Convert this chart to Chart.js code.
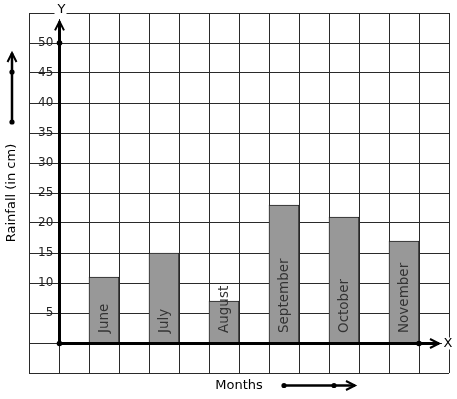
<!DOCTYPE html>
<html><head><meta charset="utf-8">
<script src="https://cdn.jsdelivr.net/npm/chart.js@4/dist/chart.umd.min.js"></script>
<style>html,body{margin:0;padding:0;background:#fff}#wrap{width:457px;height:399px}</style>
</head><body><div id="wrap"><canvas id="c" width="457" height="399"></canvas></div>
<script>
// ---- data ----
const months = ['June', 'July', 'August', 'September', 'October', 'November'];
const rainfall = [11, 15, 7, 23, 21, 17];
const yTickLabels = [5, 10, 15, 20, 25, 30, 35, 40, 45, 50];
const yMin = -5, yMax = 55, yStep = 5;
const gridColumns = 14;          // graph-paper columns
const firstBarColumn = 2;        // column of the first bar
const columnGap = 2;             // bars every second column

// ---- build category table ----
const labels = Array(gridColumns).fill('');
const values = Array(gridColumns).fill(null);
months.forEach((m, i) => { labels[firstBarColumn + columnGap * i] = m; values[firstBarColumn + columnGap * i] = rainfall[i]; });

Chart.defaults.font.family = '"DejaVu Sans", sans-serif';

function arrowHead(ctx, x, y, dir, len, half) {
  ctx.beginPath();
  if (dir === 'up') { ctx.moveTo(x - half, y + len); ctx.lineTo(x, y); ctx.lineTo(x + half, y + len); }
  else { ctx.moveTo(x - len, y - half); ctx.lineTo(x, y); ctx.lineTo(x - len, y + half); }
  ctx.stroke();
}
function dot(ctx, x, y, r) { ctx.beginPath(); ctx.arc(x, y, r, 0, Math.PI * 2); ctx.fill(); }

const deco = {
  id: 'deco',
  afterDatasetsDraw(chart) {
    const ctx = chart.ctx;
    const meta = chart.getDatasetMeta(0);
    const xs = chart.scales.x, ys = chart.scales.y;
    const ca = chart.chartArea;
    ctx.save();
    // month names inside bars
    ctx.font = '13.5px "DejaVu Sans"';
    ctx.fillStyle = '#333';
    ctx.textAlign = 'left';
    ctx.textBaseline = 'middle';
    meta.data.forEach((bar, i) => {
      if (values[i] === null) return;
      ctx.save();
      ctx.translate(bar.x, bar.base - 9.5);
      ctx.rotate(-Math.PI / 2);
      ctx.fillText(labels[i], 0, 0);
      ctx.restore();
    });
    // axes
    const ax = Math.round((xs.getPixelForValue(0) + xs.getPixelForValue(1)) / 2) + 0.5;
    const ay = Math.round(ys.getPixelForValue(0)) + 0.5;
    ctx.strokeStyle = '#000';
    ctx.fillStyle = '#000';
    ctx.lineWidth = 3;
    const yTip = ys.getPixelForValue(53.6);
    ctx.beginPath(); ctx.moveTo(ax, ay); ctx.lineTo(ax, yTip); ctx.stroke();
    ctx.lineWidth = 2;
    arrowHead(ctx, ax, yTip, 'up', 9, 4.5);
    const xTip = xs.getPixelForValue(gridColumns - 1) + 5;
    ctx.lineWidth = 3;
    ctx.beginPath(); ctx.moveTo(ax, ay); ctx.lineTo(xTip, ay); ctx.stroke();
    ctx.lineWidth = 2;
    arrowHead(ctx, xTip, ay, 'right', 9, 4.5);
    dot(ctx, ax, ay, 2.8);
    dot(ctx, ax, ys.getPixelForValue(50), 2.8);
    dot(ctx, (xs.getPixelForValue(gridColumns - 2) + xs.getPixelForValue(gridColumns - 1)) / 2, ay, 2.8);
    // axis letters
    ctx.font = '13px "DejaVu Sans"';
    ctx.textAlign = 'center';
    ctx.textBaseline = 'middle';
    ctx.fillStyle = '#fff';
    ctx.fillRect(ax - 5, ca.top - 7, 12, 13);
    ctx.fillRect(ca.right - 7, ay - 6, 12, 12);
    ctx.fillStyle = '#000';
    ctx.fillText('Y', ax + 2, ca.top - 3);
    ctx.fillText('X', ca.right - 1, ay);
    // side arrow (left)
    const lx = ca.left - 17;
    ctx.lineWidth = 2.5;
    ctx.beginPath(); ctx.moveTo(lx, ca.top + 109); ctx.lineTo(lx, ca.top + 40); ctx.stroke();
    ctx.lineWidth = 2;
    arrowHead(ctx, lx, ca.top + 40, 'up', 9, 4.5);
    dot(ctx, lx, ca.top + 59, 2.6);
    dot(ctx, lx, ca.top + 109, 2.6);
    // bottom arrow
    const by = ca.bottom + 12.5;
    ctx.lineWidth = 2.5;
    ctx.beginPath(); ctx.moveTo(ca.left + 255, by); ctx.lineTo(ca.left + 326, by); ctx.stroke();
    ctx.lineWidth = 2;
    arrowHead(ctx, ca.left + 326, by, 'right', 9, 4.5);
    dot(ctx, ca.left + 255, by, 2.6);
    dot(ctx, ca.left + 305, by, 2.6);
    ctx.restore();
  }
};

new Chart(document.getElementById('c'), {
  type: 'bar',
  data: {
    labels: labels,
    datasets: [{
      data: values,
      backgroundColor: '#989898',
      borderColor: '#222',
      borderWidth: 1,
      barPercentage: 1,
      categoryPercentage: 1
    }]
  },
  options: {
    responsive: false,
    animation: false,
    events: [],
    layout: { padding: { top: 13, right: 8, left: 0, bottom: 0 } },
    plugins: { legend: { display: false }, tooltip: { enabled: false } },
    scales: {
      x: {
        grid: { color: '#2a2a2a', lineWidth: 1, drawTicks: false, offset: true },
        border: { display: false },
        ticks: { display: false },
        title: { display: true, text: 'Months', color: '#000', font: { size: 13 }, padding: { top: 4.7, bottom: 5.7 } },
        afterFit(s) { s.height = 26; s.paddingLeft = 0; s.paddingRight = 0; }
      },
      y: {
        min: yMin, max: yMax,
        grid: { color: '#2a2a2a', lineWidth: 1, drawTicks: false },
        border: { display: false },
        ticks: {
          stepSize: yStep, mirror: true, crossAlign: 'far', padding: 9,
          color: '#222', font: { size: 12 },
          callback: v => yTickLabels.includes(v) ? String(v) : ''
        },
        title: { display: true, text: 'Rainfall (in cm)', color: '#000', font: { size: 13 }, padding: { top: 4.2, bottom: 9.2 } },
        afterFit(s) { s.width = 29; s.paddingTop = 0; s.paddingBottom = 0; }
      }
    }
  },
  plugins: [deco]
});
</script></body></html>
